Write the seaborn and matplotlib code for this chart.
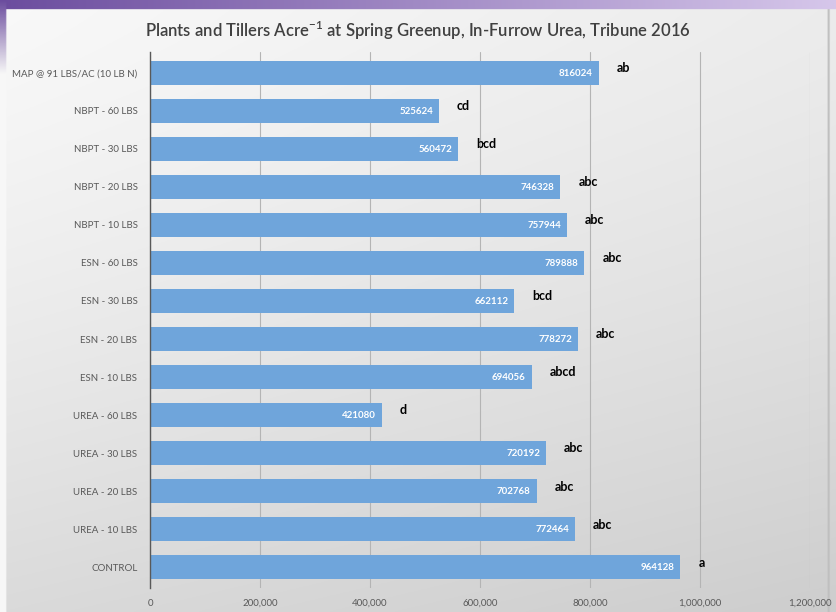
import numpy as np
import pandas as pd
import matplotlib
matplotlib.use("Agg")
import matplotlib.pyplot as plt
import seaborn as sns

categories = ["MAP @ 91 LBS/AC (10 LB N)", "NBPT - 60 LBS", "NBPT - 30 LBS", "NBPT - 20 LBS",
              "NBPT - 10 LBS", "ESN - 60 LBS", "ESN - 30 LBS", "ESN - 20 LBS", "ESN - 10 LBS",
              "UREA - 60 LBS", "UREA - 30 LBS", "UREA - 20 LBS", "UREA - 10 LBS", "CONTROL"]
values = [816024, 525624, 560472, 746328, 757944, 789888, 662112, 778272, 694056,
          421080, 720192, 702768, 772464, 964128]
letters = ["ab", "cd", "bcd", "abc", "abc", "abc", "bcd", "abc", "abcd",
           "d", "abc", "abc", "abc", "a"]
xticks = [0, 200000, 400000, 600000, 800000, 1000000, 1200000]
title = "Plants and Tillers Acre$^{\\mathregular{-1}}$ at Spring Greenup, In-Furrow Urea, Tribune 2016"

df = pd.DataFrame({"cat": categories, "val": values})

sns.set_theme(style="white")
plt.rcParams["font.family"] = ["Lato", "DejaVu Sans"]

W, H = 836, 612
fig = plt.figure(figsize=(W / 100, H / 100), dpi=100)

# background gradient
bg = fig.add_axes([0, 0, 1, 1], zorder=-10)
xx, yy = np.meshgrid(np.linspace(0, 1, 400), np.linspace(0, 1, 400))
g = 0.975 - 0.05 * xx - 0.12 * yy ** 1.3
img = np.dstack([g, g, g])
c1 = np.array([0.42, 0.30, 0.62]); c2 = np.array([0.84, 0.78, 0.92])
top = yy < 0.014
leftw = xx < 0.007
rightw = (xx > 0.990) & (xx < 0.993)
for k in range(3):
    ch = img[:, :, k]
    ch[leftw] = 0.97
    ch[rightw] = 0.75
    ch[top] = (c1[k] + (c2[k] - c1[k]) * xx)[top]
    lt = (xx < 0.007) & (yy < 0.12)
    ch[lt] = (c1[k] + (0.97 - c1[k]) * (yy / 0.12))[lt]
bg.imshow(img, extent=[0, 1, 0, 1], origin="upper", aspect="auto")
bg.set_axis_off()

ax = fig.add_axes([150 / W, 1 - 588 / H, (810 - 150) / W, (588 - 52) / H])
ax.set_facecolor("none")
sns.barplot(data=df, x="val", y="cat", orient="h", color="#6FA5DB", saturation=1,
            width=0.63, ax=ax, zorder=3, edgecolor="none", linewidth=0)

ax.set_xlim(0, 1200000)
ax.set_ylim(13.55, -0.55)
ax.set_xticks(xticks)
ax.set_xticklabels([f"{t:,}" for t in xticks], fontsize=7, color="#595959")
ax.tick_params(axis="y", labelsize=7, labelcolor="#595959", length=0, pad=9)
ax.tick_params(axis="x", length=0, pad=8)
ax.set_xlabel("")
ax.set_ylabel("")
ax.grid(axis="x", color="#B4B4B4", linewidth=0.8, zorder=0)
for s in ["top", "right", "bottom"]:
    ax.spines[s].set_visible(False)
ax.spines["left"].set_color("#595959")
ax.spines["left"].set_linewidth(1)
ax.spines["left"].set_zorder(5)

xr = 1200000 / (810 - 150)
for i, (v, l) in enumerate(zip(values, letters)):
    ax.text(v - 6 * xr, i + 0.02, str(v), ha="right", va="center", fontsize=7,
            color="white", fontweight="bold", zorder=6)
    ax.text(v + 18 * xr, i - 0.12, l, ha="left", va="center", fontsize=9,
            color="black", fontweight="bold", zorder=6)

fig.text(0.5, 1 - 30 / H, title, ha="center", va="center", fontsize=12,
         color="#404040", fontweight="semibold")

fig.savefig("out.png", dpi=100)
